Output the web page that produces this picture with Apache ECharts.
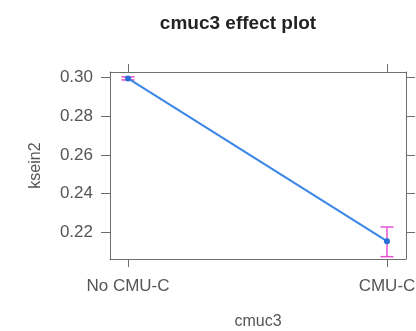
<!DOCTYPE html>
<html><head><meta charset="utf-8">
<script src="https://cdn.jsdelivr.net/npm/echarts@6/dist/echarts.min.js"></script>
<style>html,body{margin:0;padding:0;background:#fff}#c{width:416px;height:331px}</style>
</head><body><div id="c"></div>
<script>
var categories = ['No CMU-C', 'CMU-C'];
var fitValues = [0.2995, 0.2155];
var lowerValues = [0.2987, 0.2075];
var upperValues = [0.3003, 0.2228];
var yTicks = [0.22, 0.24, 0.26, 0.28, 0.30];

var frame = '#6e6e6e';
var txt = '#555555';
var font = 'Liberation Sans, Arial, sans-serif';
var xMin = -0.0695, xMax = 1.0734;
var yMin = 0.2063, yMax = 0.3028;
var catIdx = categories.map(function (c, i) { return i; });

var lineData = fitValues.map(function (v, i) { return [i, v]; });
var barData = fitValues.map(function (v, i) { return [i, lowerValues[i], upperValues[i]]; });

var chart = echarts.init(document.getElementById('c'), null, {renderer: 'canvas'});
chart.setOption({
  animation: false,
  backgroundColor: '#fff',
  title: {
    text: 'cmuc3 effect plot', left: 233, top: 9, textAlign: 'center',
    textStyle: {fontFamily: font, fontSize: 19, fontWeight: 'bold', color: '#222'}
  },
  grid: {left: 110, right: 10, top: 72, bottom: 72, containLabel: false, outerBoundsMode: 'none'},
  xAxis: [{
    type: 'value', position: 'bottom', min: xMin, max: xMax,
    axisLine: {show: true, onZero: false, lineStyle: {color: frame, width: 1}},
    axisTick: {show: true, length: 8, customValues: catIdx, lineStyle: {color: frame}},
    axisLabel: {customValues: catIdx, margin: 19, color: txt, fontFamily: font, fontSize: 17,
      formatter: function (v) { return categories[Math.round(v)]; }},
    splitLine: {show: false},
    name: 'cmuc3', nameLocation: 'middle', nameGap: 55,
    nameTextStyle: {color: txt, fontFamily: font, fontSize: 16}
  }, {
    type: 'value', position: 'top', min: xMin, max: xMax,
    axisLine: {show: true, onZero: false, lineStyle: {color: frame, width: 1}},
    axisTick: {show: true, length: 8, customValues: catIdx, lineStyle: {color: frame}},
    axisLabel: {show: false}, splitLine: {show: false}
  }],
  yAxis: [{
    type: 'value', position: 'left', min: yMin, max: yMax,
    axisLine: {show: true, onZero: false, lineStyle: {color: frame, width: 1}},
    axisTick: {show: true, length: 9, customValues: yTicks, lineStyle: {color: frame}},
    axisLabel: {customValues: yTicks, margin: 17, color: txt, fontFamily: font, fontSize: 17,
      formatter: function (v) { return v.toFixed(2); }},
    splitLine: {show: false},
    name: 'ksein2', nameLocation: 'middle', nameGap: 66,
    nameTextStyle: {color: txt, fontFamily: font, fontSize: 16}
  }, {
    type: 'value', position: 'right', min: yMin, max: yMax,
    axisLine: {show: true, onZero: false, lineStyle: {color: frame, width: 1}},
    axisTick: {show: true, length: 9, customValues: yTicks, lineStyle: {color: frame}},
    axisLabel: {show: false}, splitLine: {show: false}
  }],
  series: [{
    type: 'line', data: lineData, xAxisIndex: 0, yAxisIndex: 0,
    symbol: 'circle', symbolSize: 6,
    lineStyle: {color: '#3a86e8', width: 2},
    itemStyle: {color: '#2a6fd6'}, z: 3
  }, {
    type: 'custom', data: barData, xAxisIndex: 0, yAxisIndex: 0, z: 2,
    renderItem: function (params, api) {
      var x = api.value(0);
      var lo = api.coord([x, api.value(1)]);
      var hi = api.coord([x, api.value(2)]);
      var w = 6.5;
      var st = {stroke: '#e651d3', lineWidth: 1.5};
      return {type: 'group', children: [
        {type: 'line', shape: {x1: lo[0], y1: lo[1], x2: hi[0], y2: hi[1]}, style: st},
        {type: 'line', shape: {x1: lo[0] - w, y1: lo[1], x2: lo[0] + w, y2: lo[1]}, style: st},
        {type: 'line', shape: {x1: hi[0] - w, y1: hi[1], x2: hi[0] + w, y2: hi[1]}, style: st}
      ]};
    }
  }]
});
</script></body></html>
